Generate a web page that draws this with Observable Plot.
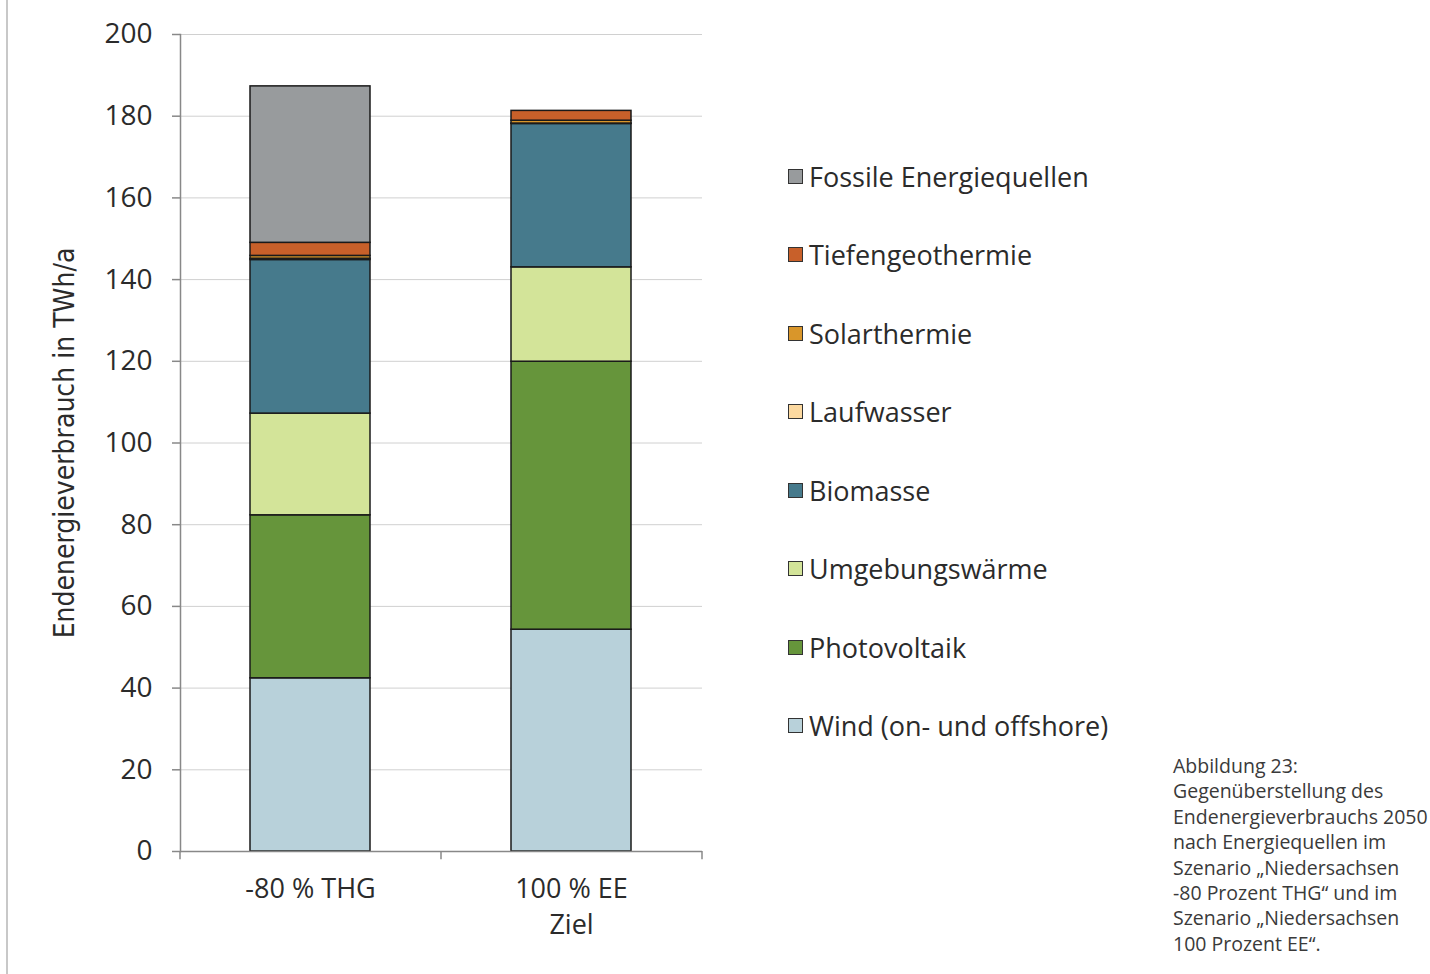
<!DOCTYPE html>
<html><head><meta charset="utf-8">
<script src="https://cdn.jsdelivr.net/npm/d3@7"></script>
<script src="https://cdn.jsdelivr.net/npm/@observablehq/plot@0.6"></script>
<style>
body{margin:0;background:#fff;font-family:"Open Sans",sans-serif;}
#wrap{position:relative;width:1430px;height:974px;}
#border{position:absolute;left:6px;top:0;width:2px;height:974px;background:#c8c8c8;}
#legend{position:absolute;left:788px;top:0;}
.li{position:absolute;left:0;white-space:nowrap;font-size:27px;color:#2b2b2b;display:flex;align-items:center;height:40px;}
.sw{width:15px;height:15px;border:1.5px solid #333;margin-right:6px;box-sizing:border-box;flex:none;}
#caption{position:absolute;left:1173px;top:753px;font-size:19.5px;line-height:25.4px;color:#3a3a3a;white-space:nowrap;}
</style></head>
<body><div id="wrap"><div id="chart"></div><div id="border"></div><div id="legend"></div>
<div id="caption">Abbildung 23:<br>Gegenüberstellung des<br>Endenergieverbrauchs 2050<br>nach Energiequellen im<br>Szenario „Niedersachsen<br>-80 Prozent THG“ und im<br>Szenario „Niedersachsen<br>100 Prozent EE“.</div></div>
<script>
const scenarios = ["-80 % THG", "100 % EE\nZiel"];
const sources = ["Wind (on- und offshore)", "Photovoltaik", "Umgebungswärme", "Biomasse", "Laufwasser", "Solarthermie", "Tiefengeothermie", "Fossile Energiequellen"];
const colors = ["#b8d1da", "#66953b", "#d3e499", "#467a8c", "#fcd9a0", "#d9962a", "#c8602a", "#989b9d"];
const valuesTHG = [42.4, 39.9, 24.9, 37.6, 0.3, 0.7, 3.2, 38.3];
const valuesEE = [54.3, 65.6, 23.1, 35.1, 0.1, 0.7, 2.4, 0.0];
const yTicks = [0, 20, 40, 60, 80, 100, 120, 140, 160, 180, 200];

const data = [];
scenarios.forEach((s, i) => {
  const vals = i === 0 ? valuesTHG : valuesEE;
  sources.forEach((src, j) => { if (vals[j] > 0) data.push({scenario: s, source: src, value: vals[j]}); });
});

const W = 1430, H = 974;
const chart = Plot.plot({
  width: W, height: H,
  marginLeft: 180, marginRight: W - 702, marginTop: 34, marginBottom: H - 851,
  style: {fontFamily: "'Open Sans', sans-serif", color: "#2b2b2b", background: "transparent"},
  x: {domain: scenarios, paddingInner: 0.54, paddingOuter: 0.27, label: null},
  y: {domain: [0, 200], label: null},
  color: {domain: sources, range: colors},
  marks: [
    Plot.gridY(yTicks, {stroke: "#d0d0d0", strokeOpacity: 1, strokeWidth: 1}),
    Plot.barY(data, {x: "scenario", y: "value", fill: "source", order: sources, stroke: "#1a1a1a", strokeWidth: 1.5}),
    Plot.ruleY([0], {stroke: "#888", strokeWidth: 1.5}),
    Plot.frame({anchor: "left", stroke: "#888", strokeWidth: 1.5}),
    Plot.axisY(yTicks, {tickSize: 8, tickPadding: 20, fontSize: 28, stroke: "#888", strokeWidth: 1.5}),
    Plot.ruleX(scenarios, {x: d => d, y1: 0, y2: -2, dx: -130.5, stroke: "#888", strokeWidth: 1.5}),
    Plot.ruleX([scenarios[1]], {x: d => d, y1: 0, y2: -2, dx: 130.5, stroke: "#888", strokeWidth: 1.5}),
    Plot.axisX({tickSize: 0, tickPadding: 22, fontSize: 27, lineHeight: 1.3}),
    Plot.text(["Endenergieverbrauch in TWh/a"], {frameAnchor: "left", textAnchor: "middle", dx: -115, dy: 0, rotate: -90, fontSize: 28, fontFamily: "'DejaVu Sans Condensed', 'Liberation Sans Narrow', sans-serif", fill: "#2b2b2b"})
  ]
});
document.getElementById("chart").appendChild(chart);

const legend = document.getElementById("legend");
const legendOrder = sources.slice().reverse();
const legendColors = colors.slice().reverse();
legendOrder.forEach((s, i) => {
  const d = document.createElement("div");
  d.className = "li";
  d.style.top = (176 + i * 78.5 - 20) + "px";
  d.innerHTML = `<span class="sw" style="background:${legendColors[i]}"></span><span>${s}</span>`;
  legend.appendChild(d);
});
</script></body></html>
